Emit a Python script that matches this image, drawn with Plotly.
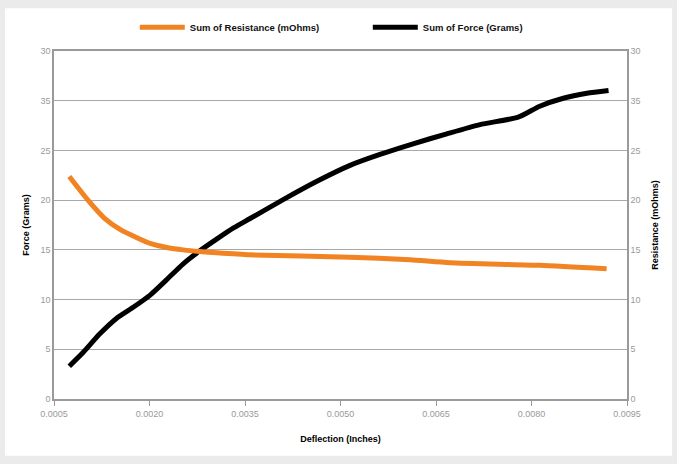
import plotly.graph_objects as go

# Deflection (inches) sample points for each series
force_x = [0.00074, 0.00096, 0.00122, 0.00148, 0.00175, 0.00201, 0.00227, 0.00253, 0.00279,
           0.00306, 0.00332, 0.00358, 0.00410, 0.00463, 0.00515, 0.00562, 0.00614, 0.00667,
           0.00719, 0.00779, 0.00813, 0.00850, 0.00887, 0.00921]
force_y = [3.3, 4.7, 6.55, 8.1, 9.25, 10.45, 12.0, 13.6, 14.9,
           16.1, 17.2, 18.15, 20.06, 21.9, 23.5, 24.6, 25.67, 26.67,
           27.6, 28.34, 29.45, 30.25, 30.75, 31.03]

res_x = [0.00074, 0.00102, 0.00129, 0.00155, 0.00181, 0.00201, 0.00229, 0.00253, 0.00279,
         0.00306, 0.00358, 0.00515, 0.00609, 0.00672, 0.00813, 0.00918]
res_y = [22.37, 20.1, 18.2, 17.0, 16.2, 15.65, 15.22, 15.0, 14.83,
         14.7, 14.5, 14.26, 14.0, 13.7, 13.45, 13.1]

x_ticks = [0.0005, 0.0020, 0.0035, 0.0050, 0.0065, 0.0080, 0.0095]
y_tickvals = [0, 5, 10, 15, 20, 25, 30, 35]
y_ticktext = ["0", "5", "10", "15", "20", "25", "35", "30"]

ORANGE = "#F28322"
GRID = "#a8a8a8"
TICKC = "#9a9a9a"
FONT = "Liberation Sans, Arial, sans-serif"

fig = go.Figure()
fig.add_trace(go.Scatter(x=res_x, y=res_y, name="<b>Sum of Resistance (mOhms)</b>", mode="lines",
                         line=dict(color=ORANGE, width=5, shape="spline", smoothing=0.6),
                         yaxis="y2"))
fig.add_trace(go.Scatter(x=force_x, y=force_y, name="<b>Sum of Force (Grams)</b>", mode="lines",
                         line=dict(color="#000000", width=5, shape="spline", smoothing=0.6)))

fig.update_layout(
    width=677, height=464,
    margin=dict(l=54, r=50, t=51, b=65, pad=0, autoexpand=False),
    paper_bgcolor="#ebebeb",
    plot_bgcolor="white",
    font=dict(family=FONT, size=9, color="#000"),
    showlegend=True,
    legend=dict(orientation="h", x=0.141, xanchor="left", y=1.068, yanchor="middle",
                font=dict(size=9.5, family=FONT, color="#111"), bgcolor="rgba(0,0,0,0)",
                itemwidth=45, entrywidth=173, entrywidthmode="pixels", traceorder="normal"),
    xaxis=dict(range=[0.0005, 0.0095], tickvals=x_ticks, tickformat=".4f", automargin=False,
               showgrid=False, zeroline=False, showline=True, linecolor=TICKC, linewidth=1.5,
               mirror=True, ticks="outside", ticklen=5, tickcolor=TICKC,
               tickfont=dict(color=TICKC, size=9),
               title=dict(text="<b>Deflection (Inches)</b>", font=dict(size=9), standoff=18)),
    yaxis=dict(range=[0, 35], tickvals=y_tickvals, ticktext=y_ticktext, automargin=False,
               showgrid=True, gridcolor=GRID, gridwidth=1, zeroline=False,
               showline=True, linecolor=TICKC, linewidth=1.5, ticks="",
               tickfont=dict(color=TICKC, size=9),
               title=dict(text="<b>Force (Grams)</b>", font=dict(size=9), standoff=9)),
    yaxis2=dict(range=[0, 35], tickvals=y_tickvals, ticktext=y_ticktext, overlaying="y",
                automargin=False,
                side="right", showgrid=False, zeroline=False, showline=True, linecolor=TICKC,
                linewidth=1.5, ticks="", tickfont=dict(color=TICKC, size=9),
                title=dict(text="<b>Resistance (mOhms)</b>", font=dict(size=9), standoff=12)),
    shapes=[dict(type="rect", xref="paper", yref="paper", x0=-0.0855, x1=1.0785,
                 y0=-0.163, y1=1.1225, fillcolor="white", line=dict(width=0), layer="below")],
)

fig.write_html("out.html", config={"displayModeBar": False},
               post_script="document.body.style.margin='0';document.body.style.background='#ebebeb';")
